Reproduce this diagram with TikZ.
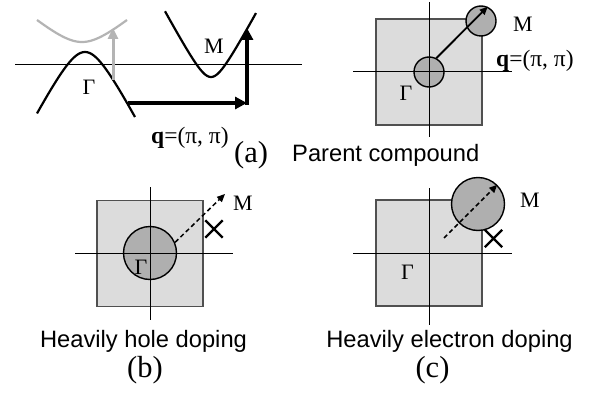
\documentclass[tikz,border=0pt]{standalone}
\usepackage{fontspec}
\setmainfont{Liberation Serif}
\newfontfamily\sansf{Liberation Sans}
\usetikzlibrary{arrows.meta,shapes.misc}

\definecolor{bzfill}{HTML}{DCDCDC}
\definecolor{pocketfill}{HTML}{AFAFAF}
\definecolor{bzedge}{HTML}{505050}
\definecolor{bandgray}{HTML}{B4B4B4}

\begin{document}
\begin{tikzpicture}[x=1pt,y=-1pt,
  axisline/.style={line width=1pt},
  bz/.style={draw=bzedge, fill=bzfill, line width=1.1pt, rectangle, minimum size=106pt, inner sep=0pt},
  pocketsmall/.style={circle, draw, fill=pocketfill, line width=1.4pt, minimum size=30pt, inner sep=0pt},
  pocketbig/.style={circle, draw, fill=pocketfill, line width=1.4pt, minimum size=53pt, inner sep=0pt},
  band/.style={line width=2.2pt},
  lbl/.style={font=\fontsize{22}{23}\selectfont, inner sep=0pt},
  qlbl/.style={font=\fontsize{23.5}{25}\selectfont, inner sep=0pt, anchor=base west},
  captext/.style={font=\sansf\fontsize{23.7}{26}\selectfont, inner sep=0pt, anchor=base},
  panellbl/.style={font=\fontsize{30.5}{32}\selectfont, inner sep=0pt, anchor=base},
  xmark/.style={cross out, draw, line width=2.4pt, minimum size=15pt, inner sep=0pt},
  bigarrow/.style={line width=4.5pt, -{Triangle[length=12pt,width=12pt]}},
  grayarrow/.style={line width=3pt, draw=bandgray, -{Triangle[length=11pt,width=10pt]}},
  qarrow/.style={line width=1.8pt, -{Triangle[length=8pt,width=7pt]}},
  dasharrow/.style={line width=1.5pt, dash pattern=on 4.5pt off 3pt, -{Triangle[length=8pt,width=7pt]}}
]
\useasboundingbox[fill=white] (0,0) rectangle (596,393);

% ---------- (a) left: band picture ----------
\draw[axisline] (15,65) -- (302,65);
\draw[band, draw=bandgray] plot[domain=37:127, samples=80, smooth] (\x, {42-20.8*(sqrt(1+((\x-82)/25)^2)-1)});
\draw[band] plot[domain=37:135, samples=80, smooth] (\x, {52+38.4*(sqrt(1+((\x-85)/20)^2)-1)});
\draw[band] plot[domain=165:256, samples=100, smooth] (\x, {77-22.2*(sqrt(1+((\x-211)/12)^2)-1)});

\coordinate (gbase) at (113,80);
\coordinate (gtip) at (113,28);
\draw[grayarrow] (gbase) -- (gtip);

\coordinate (hstart) at (128,103);
\coordinate (corner) at (247,103);
\coordinate (cornerlow) at (247,105.25);
\coordinate (vtip) at (247,28);
\draw[bigarrow] (hstart) -- (corner);
\draw[bigarrow] (cornerlow) -- (vtip);

\node[lbl] (gammaA) at (89,87) {Γ};
\node[lbl] (mA) at (214,46) {M};
\node[qlbl] (qA) at (151,143) {\textbf{q}=(π, π)};
\node[panellbl, anchor=base west] (labA) at (234,162) {(a)};
\node[captext, anchor=base west] (capA) at (292,161) {Parent compound};

% ---------- (a) right: parent compound ----------
\node[bz] (bzA) at (429,72) {};
\node[pocketsmall] (gpA) at (429,72) {};
\node[pocketsmall] (mpA) at (481,21) {};
\draw[axisline] (429,2) -- (429,137);
\draw[axisline] (353,72) -- (512,72);
\draw[qarrow] (gpA.62) -- (mpA.65);
\node[lbl] (gammaA2) at (406,93) {Γ};
\node[lbl] (mA2) at (523,24) {M};
\node[qlbl] (qA2) at (496,67) {\textbf{q}=(π, π)};

% ---------- (b) heavily hole doping ----------
\node[bz] (bzB) at (150,253.5) {};
\node[pocketbig] (gpB) at (150,253) {};
\draw[axisline] (150,187) -- (150,320);
\draw[axisline] (75,253) -- (233,253);
\coordinate (tipB) at (225,194);
\draw[dasharrow] (gpB.23) -- (tipB);
\node[xmark] (xB) at (214,229) {};
\node[lbl] (mB) at (243,203.5) {M};
\node[lbl] (gammaB) at (141,267.5) {Γ};
\node[captext] (capB) at (143.5,347) {Heavily hole doping};
\node[panellbl] (labB) at (145,377) {(b)};

% ---------- (c) heavily electron doping ----------
\node[bz] (bzC) at (429,253) {};
\draw[axisline] (429,188) -- (429,325);
\draw[axisline] (353,253) -- (512,253);
\node[pocketbig] (mpC) at (478,204) {};
\coordinate (startC) at (444,238);
\draw[dasharrow] (startC) -- (mpC.45);
\node[xmark] (xC) at (493.5,238.5) {};
\node[lbl] (mC) at (530,200) {M};
\node[lbl] (gammaC) at (407.5,272) {Γ};
\node[captext] (capC) at (449.5,347) {Heavily electron doping};
\node[panellbl] (labC) at (432.5,377) {(c)};
\end{tikzpicture}
\end{document}
